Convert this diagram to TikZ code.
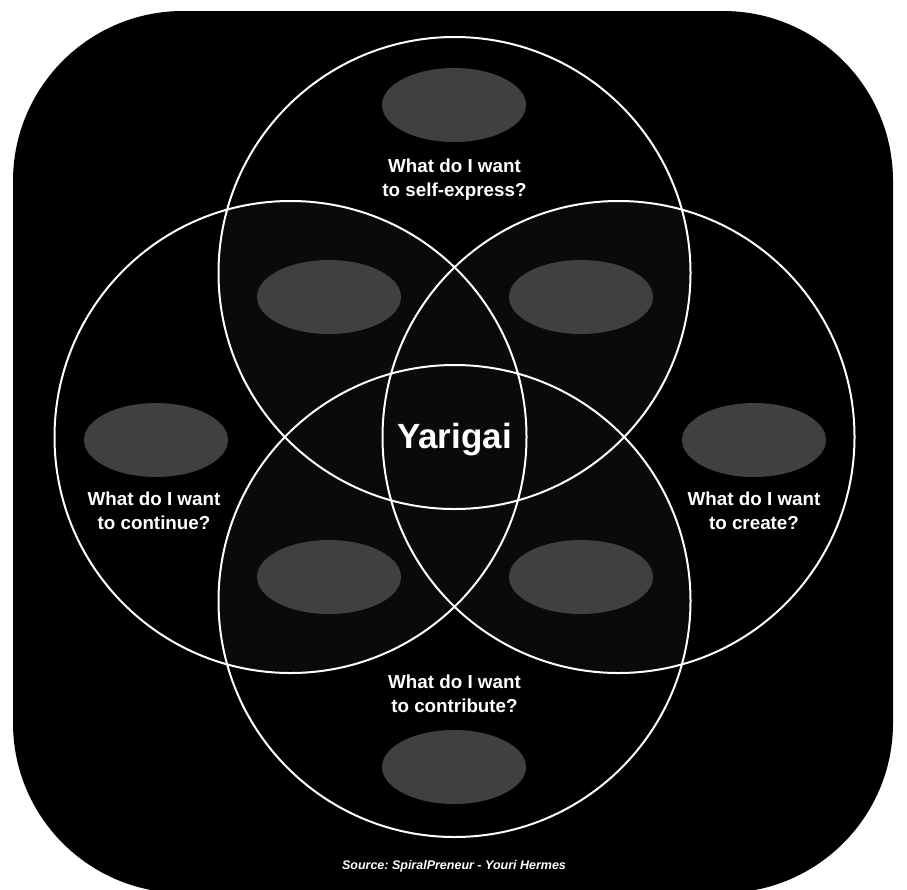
\documentclass[tikz,border=0pt]{standalone}
\usepackage{fontspec}
\setmainfont{Liberation Sans}
\usetikzlibrary{shapes.geometric}
\definecolor{lenscol}{HTML}{0A0A0A}
\definecolor{blobcol}{HTML}{404040}
\frenchspacing
\begin{document}
\begin{tikzpicture}[x=1pt,y=-1pt,
  blob/.style={ellipse, fill=blobcol, minimum width=144pt, minimum height=74pt, inner sep=0pt},
  ring/.style={draw=white, line width=2pt},
  lbl/.style={text=white, font=\fontsize{18.8}{24}\selectfont\bfseries, align=center, inner sep=0pt},
  title/.style={text=white, font=\fontsize{35}{40}\selectfont\bfseries, inner sep=0pt},
  srcnote/.style={text=white, font=\fontsize{12.5}{14}\selectfont\bfseries\itshape, inner sep=0pt}]
\useasboundingbox (0,0) rectangle (907,889);
\fill[white] (0,0) rectangle (907,889);
\clip (0,0) rectangle (907,889);
\fill[black, rounded corners=170pt] (13,11) rectangle (893,893);
\coordinate (cT) at (454.5,273);
\coordinate (cB) at (454.5,601);
\coordinate (cL) at (290.5,437);
\coordinate (cR) at (618.5,437);
\begin{scope}
  \clip (cT) circle[radius=236];
  \fill[lenscol] (cL) circle[radius=236];
  \fill[lenscol] (cR) circle[radius=236];
\end{scope}
\begin{scope}
  \clip (cB) circle[radius=236];
  \fill[lenscol] (cL) circle[radius=236];
  \fill[lenscol] (cR) circle[radius=236];
\end{scope}
\draw[ring] (cT) circle[radius=236];
\draw[ring] (cB) circle[radius=236];
\draw[ring] (cL) circle[radius=236];
\draw[ring] (cR) circle[radius=236];
\node[blob] (bT) at (454,105) {};
\node[blob] (bUL) at (329,297) {};
\node[blob] (bUR) at (581,297) {};
\node[blob] (bL) at (156,440) {};
\node[blob] (bR) at (754,440) {};
\node[blob] (bLL) at (329,577) {};
\node[blob] (bLR) at (581,577) {};
\node[blob] (bB) at (454,767) {};
\node[lbl] (lT) at (454.5,180) {What do I want\\to self-express?};
\node[lbl] (lL) at (154,511) {What do I want\\to continue?};
\node[lbl] (lR) at (754,511) {What do I want\\to create?};
\node[lbl] (lB) at (454.5,694) {What do I want\\to contribute?};
\node[title, anchor=base] (yar) at (454.5,448) {Yarigai};
\node[srcnote, anchor=base] (src) at (454,869) {Source: SpiralPreneur - Youri Hermes};
\end{tikzpicture}
\end{document}
